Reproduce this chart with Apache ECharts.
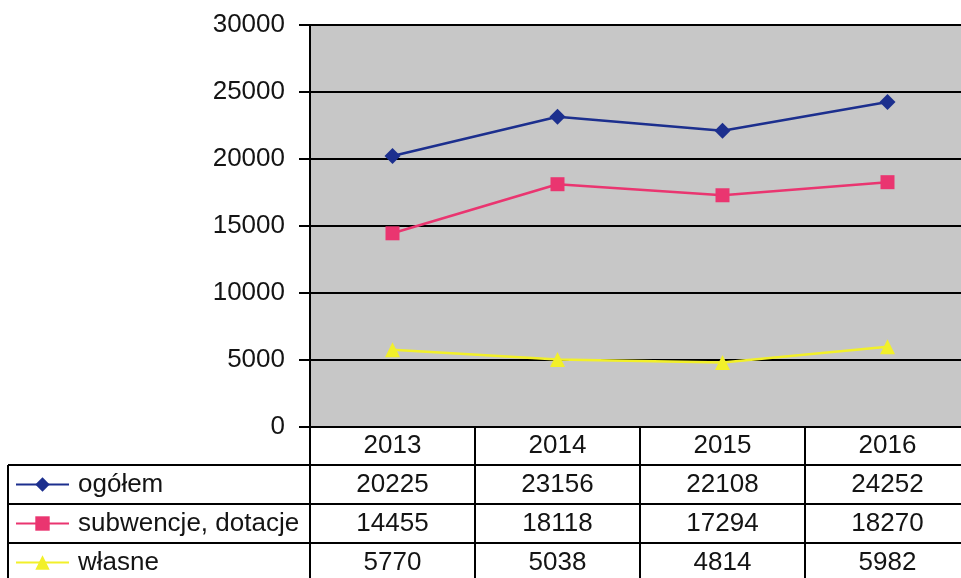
<!DOCTYPE html>
<html>
<head>
<meta charset="utf-8">
<script src="https://cdn.jsdelivr.net/npm/echarts@6/dist/echarts.min.js"></script>
<style>
html,body{margin:0;padding:0;background:#ffffff;}
#chart{width:961px;height:578px;}
</style>
</head>
<body>
<div id="chart"></div>
<script>
// ---- data ----
const years = ['2013', '2014', '2015', '2016'];
const seriesNames = ['ogółem', 'subwencje, dotacje', 'własne'];
const ogolem = [20225, 23156, 22108, 24252];
const subwencje = [14455, 18118, 17294, 18270];
const wlasne = [5770, 5038, 4814, 5982];
const yTicks = [0, 5000, 10000, 15000, 20000, 25000, 30000];

// ---- layout / style ----
const FONT = '"Liberation Sans", Arial, sans-serif';
const FS = 26;
const TXT = '#141414';
const GRID_LEFT = 310, GRID_TOP = 25, GRID_W = 660, GRID_H = 402;
const HEADER_H = 38, ROW_H = 39;
const TABLE_LEFT = 8;
const colors = ['#1c2f8e', '#ea3570', '#f2f02a'];
const symbols = ['diamond', 'rect', 'triangle'];
const symbolSizes = [16, 14, 15];
const rows = [ogolem, subwencje, wlasne];

const chart = echarts.init(document.getElementById('chart'), null, {renderer: 'canvas'});

const xAxes = [{
  type: 'category', data: years, gridIndex: 0, position: 'bottom', boundaryGap: true,
  axisLine: {show: true, lineStyle: {color: '#000', width: 2}},
  axisTick: {show: true, length: HEADER_H, lineStyle: {color: '#000', width: 2}},
  axisLabel: {interval: 0, margin: 0, fontFamily: FONT, fontSize: FS, color: TXT, lineHeight: HEADER_H},
  splitLine: {show: false}
}];
rows.forEach(function (vals, i) {
  xAxes.push({
    type: 'category', data: vals.map(String), gridIndex: 0, position: 'bottom',
    offset: HEADER_H + i * ROW_H, boundaryGap: true,
    axisLine: {show: true, onZero: false, lineStyle: {color: '#000', width: 2}},
    axisTick: {show: true, length: ROW_H, lineStyle: {color: '#000', width: 2}},
    axisLabel: {interval: 0, margin: 0, fontFamily: FONT, fontSize: FS, color: TXT, lineHeight: ROW_H},
    splitLine: {show: false}
  });
});

const legends = seriesNames.map(function (name, i) {
  const centerY = GRID_TOP + GRID_H + HEADER_H + i * ROW_H + ROW_H / 2;
  return {
    data: [name], orient: 'vertical', left: TABLE_LEFT + 7, top: centerY - 14,
    padding: 0, itemWidth: 53, itemHeight: 18, selectedMode: false,
    lineStyle: {width: 2},
    textStyle: {fontFamily: FONT, fontSize: FS, color: TXT, lineHeight: 28, padding: [0, 0, 0, 4]}
  };
});

// left-column borders of the data table
const tableTop = GRID_TOP + GRID_H + HEADER_H;
const graphics = [];
for (let i = 0; i <= rows.length; i++) {
  const y = tableTop + i * ROW_H;
  graphics.push({type: 'line', shape: {x1: TABLE_LEFT, y1: y, x2: GRID_LEFT + 1, y2: y},
    style: {stroke: '#000', lineWidth: 2}, silent: true});
}
graphics.push({type: 'line', shape: {x1: TABLE_LEFT, y1: tableTop, x2: TABLE_LEFT, y2: tableTop + rows.length * ROW_H},
  style: {stroke: '#000', lineWidth: 2}, silent: true});

chart.setOption({
  animation: false,
  backgroundColor: '#ffffff',
  grid: {left: GRID_LEFT, top: GRID_TOP, width: GRID_W, height: GRID_H, show: true,
    backgroundColor: '#c7c7c7', borderWidth: 0, containLabel: false, outerBoundsMode: 'none'},
  legend: legends,
  xAxis: xAxes,
  yAxis: {
    type: 'value', min: yTicks[0], max: yTicks[yTicks.length - 1], interval: yTicks[1] - yTicks[0],
    axisLine: {show: true, lineStyle: {color: '#000', width: 2}},
    axisTick: {show: true, length: 11, lineStyle: {color: '#000', width: 2}},
    axisLabel: {margin: 25, fontFamily: FONT, fontSize: FS, color: TXT,
      formatter: function (v) { return String(v); }},
    splitLine: {show: true, lineStyle: {color: '#000', width: 2}}
  },
  graphic: graphics,
  series: rows.map(function (vals, i) {
    return {
      name: seriesNames[i], type: 'line', xAxisIndex: 0, data: vals,
      symbol: symbols[i], symbolSize: symbolSizes[i],
      itemStyle: {color: colors[i]},
      lineStyle: {color: colors[i], width: 2.5}
    };
  })
});
</script>
</body>
</html>
